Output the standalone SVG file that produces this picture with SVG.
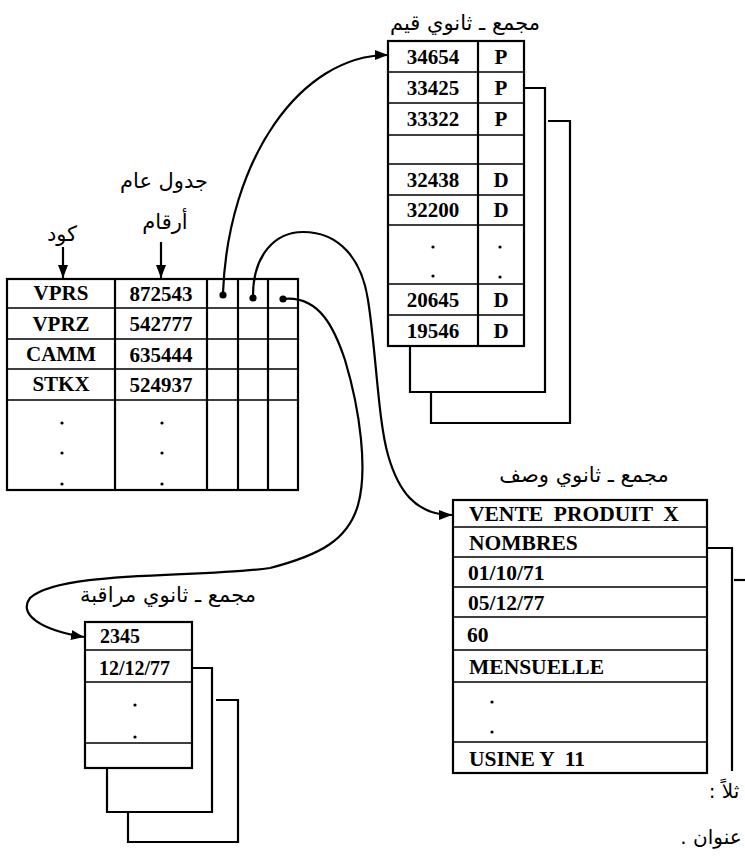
<svg xmlns="http://www.w3.org/2000/svg" width="745" height="857" viewBox="0 0 745 857">
<style>
.box{fill:none;stroke:#000;stroke-width:2.2}
.ln{fill:none;stroke:#000;stroke-width:1.6}
.cv{fill:none;stroke:#000;stroke-width:2.2}
.t{font-family:"Liberation Serif",serif;font-size:21.5px;font-weight:bold;fill:#000}
.tc{font-family:"Liberation Serif",serif;font-size:21px;font-weight:bold;fill:#000;text-anchor:middle}
.ar{font-family:"DejaVu Sans",sans-serif;font-size:21px;fill:#000;direction:rtl;unicode-bidi:embed;text-anchor:middle}
.dot{fill:#000}
</style>
<defs>
<marker id="ah" markerUnits="userSpaceOnUse" markerWidth="14" markerHeight="10" refX="13" refY="5" orient="auto">
<path d="M0,0 L13,5 L0,10 Z" fill="#000"/>
</marker>
</defs>

<g id="labels">
<text class="ar" x="164" y="188">جدول عام</text>
<text class="ar" x="165" y="229">أرقام</text>
<text class="ar" x="62" y="241">كود</text>
<text class="ar" x="465" y="30">مجمع ـ ثانوي قيم</text>
<text class="ar" x="584" y="482">مجمع ـ ثانوي وصف</text>
<text class="ar" x="168" y="602">مجمع ـ ثانوي مراقبة</text>
<text class="ar" x="724" y="798" style="font-size:20px">ثلاً :</text>
<text class="ar" x="711" y="844" style="font-size:20px">عنوان .</text>
</g>

<g id="main-table">
<rect class="box" x="7" y="279" width="291" height="211"/>
<path class="ln" d="M7,308 H298 M7,339 H298 M7,369 H298 M7,400 H298"/>
<path class="box" d="M115,279 V490 M207,279 V490 M238,279 V490 M268,279 V490"/>
<text class="tc" x="61" y="300">VPRS</text>
<text class="tc" x="161" y="301">872543</text>
<text class="tc" x="61" y="331">VPRZ</text>
<text class="tc" x="161" y="331">542777</text>
<text class="tc" x="61" y="361">CAMM</text>
<text class="tc" x="161" y="362">635444</text>
<text class="tc" x="61" y="391">STKX</text>
<text class="tc" x="161" y="392">524937</text>
<circle class="dot" cx="62" cy="423" r="1.6"/>
<circle class="dot" cx="62" cy="453" r="1.6"/>
<circle class="dot" cx="62" cy="484" r="1.6"/>
<circle class="dot" cx="162" cy="423" r="1.6"/>
<circle class="dot" cx="162" cy="453" r="1.6"/>
<circle class="dot" cx="162" cy="484" r="1.6"/>
<circle class="dot" cx="223" cy="295" r="3.6"/>
<circle class="dot" cx="253" cy="298" r="3.6"/>
<circle class="dot" cx="283" cy="299" r="3.6"/>
</g>

<g id="table-qiyam">
<path class="box" d="M524,88 H545 V392 H410 V346"/>
<path class="box" d="M548,121 H570 V423 H431 V392"/>
<rect class="box" x="388" y="41" width="136" height="305" fill="#fff"/>
<path class="ln" d="M388,72 H524 M388,103 H524 M388,135 H524 M388,164 H524 M388,195 H524 M388,225 H524 M388,284 H524 M388,315 H524"/>
<path class="box" d="M478,41 V346"/>
<text class="tc" x="433" y="64">34654</text><text class="tc" x="501" y="64">P</text>
<text class="tc" x="433" y="95">33425</text><text class="tc" x="501" y="95">P</text>
<text class="tc" x="433" y="126">33322</text><text class="tc" x="501" y="126">P</text>
<text class="tc" x="433" y="187">32438</text><text class="tc" x="501" y="187">D</text>
<text class="tc" x="433" y="217">32200</text><text class="tc" x="501" y="217">D</text>
<circle class="dot" cx="433" cy="247" r="1.6"/>
<circle class="dot" cx="433" cy="276" r="1.6"/>
<circle class="dot" cx="500" cy="247" r="1.6"/>
<circle class="dot" cx="500" cy="277" r="1.6"/>
<text class="tc" x="433" y="307">20645</text><text class="tc" x="501" y="307">D</text>
<text class="tc" x="433" y="338">19546</text><text class="tc" x="501" y="338">D</text>
</g>

<g id="table-wasf">
<path class="box" d="M707,548 H732 V771"/>
<path class="box" d="M734,580 H745"/>
<rect class="box" x="453" y="500" width="254" height="273" fill="#fff"/>
<path class="ln" d="M453,527 H707 M453,557 H707 M453,587 H707 M453,617 H707 M453,650 H707 M453,682 H707 M453,742 H707"/>
<text class="t" x="469" y="521" xml:space="preserve">VENTE  PRODUIT  X</text>
<text class="t" x="469" y="550">NOMBRES</text>
<text class="t" x="468" y="580">01/10/71</text>
<text class="t" x="468" y="610">05/12/77</text>
<text class="t" x="467" y="642">60</text>
<text class="t" x="469" y="674">MENSUELLE</text>
<circle class="dot" cx="492" cy="702" r="1.6"/>
<circle class="dot" cx="492" cy="732" r="1.6"/>
<text class="t" x="469" y="766" xml:space="preserve">USINE Y  11</text>
</g>

<g id="table-muraqaba">
<path class="box" d="M192,668 H212 V812 H107 V768"/>
<path class="box" d="M216,700 H238 V842 H128 V812"/>
<rect class="box" x="85" y="622" width="107" height="146" fill="#fff"/>
<path class="ln" d="M85,650 H192 M85,682 H192 M85,743 H192"/>
<text class="t" x="100" y="643" style="font-size:20px">2345</text>
<text class="t" x="99" y="675" style="font-size:20px">12/12/77</text>
<circle class="dot" cx="135" cy="705" r="1.6"/>
<circle class="dot" cx="135" cy="737" r="1.6"/>
</g>

<g id="connectors">
<path class="cv" d="M63,247 V278" marker-end="url(#ah)"/>
<path class="cv" d="M161,242 V278" marker-end="url(#ah)"/>
<path class="cv" d="M223,293 C228,160 300,55 388,55" marker-end="url(#ah)"/>
<path class="cv" d="M253,296 C253,255 275,232 303,232 C340,232 362,260 368,300 C376,350 378,420 388,455 C398,490 415,515 452,515" marker-end="url(#ah)"/>
<path class="cv" d="M283,299 C320,295 335,330 345,360 C360,410 368,470 358,505 C348,540 320,555 270,568 C200,578 60,570 30,598 C18,614 40,630 84,637" marker-end="url(#ah)"/>
</g>
</svg>
